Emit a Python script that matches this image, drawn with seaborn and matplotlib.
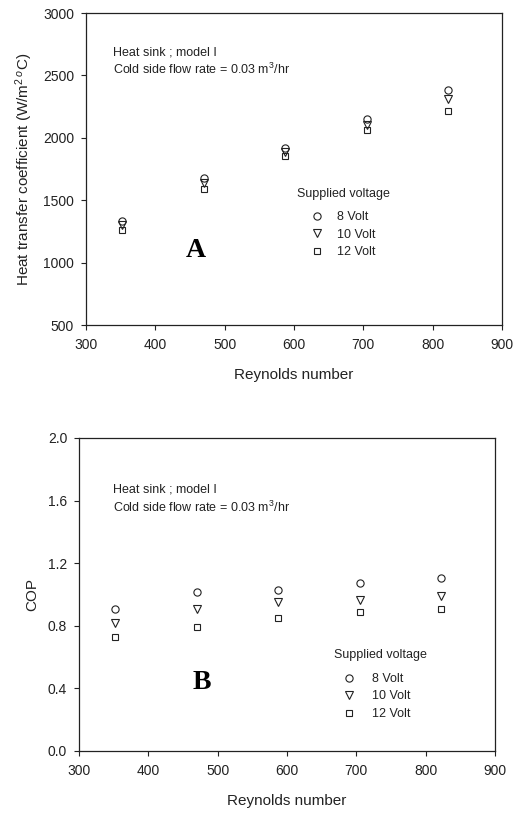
import matplotlib
matplotlib.use("Agg")
import matplotlib.pyplot as plt
import seaborn as sns
import pandas as pd
from matplotlib.lines import Line2D

sns.set_style("ticks")
plt.rcParams['font.family'] = ['Liberation Sans', 'DejaVu Sans']
plt.rcParams['mathtext.fontset'] = 'custom'
plt.rcParams['mathtext.rm'] = 'Liberation Sans'
plt.rcParams['mathtext.it'] = 'Liberation Sans:italic'
plt.rcParams['mathtext.bf'] = 'Liberation Sans:bold'

reynolds = [352, 470, 587, 705, 822]
voltages = ["8 Volt", "10 Volt", "12 Volt"]
htc_8 = [1335, 1680, 1920, 2152, 2385]
htc_10 = [1305, 1635, 1885, 2100, 2310]
htc_12 = [1258, 1588, 1853, 2062, 2215]
cop_8 = [0.907, 1.018, 1.031, 1.072, 1.106]
cop_10 = [0.815, 0.905, 0.952, 0.965, 0.993]
cop_12 = [0.726, 0.792, 0.847, 0.886, 0.909]
markers = ['o', 'v', 's']
msizes = [5.2, 5.4, 5.0]

fig = plt.figure(figsize=(5.23, 8.13), dpi=100)
axA = fig.add_axes([0.1644, 0.6002, 0.7954, 0.3838])
axB = fig.add_axes([0.1510, 0.0763, 0.7954, 0.3850])

ink = '#222222'


def draw(ax, series, ylim, yticks, yfmt, ylabel, letter, letter_pos, leg_title_pos, leg_pos, note_pos, tpad):
    for vals, m, ms in zip(series, markers, msizes):
        df = pd.DataFrame({"Re": reynolds, "v": vals})
        sns.lineplot(data=df, x="Re", y="v", ax=ax, marker=m, linestyle='',
                     color=ink, markerfacecolor='none', markeredgecolor=ink,
                     markeredgewidth=0.8, markersize=ms, errorbar=None)
    ax.set_xlim(300, 900)
    ax.set_ylim(*ylim)
    ax.set_xticks(range(300, 901, 100))
    ax.set_yticks(yticks)
    ax.set_yticklabels([yfmt.format(t) for t in yticks])
    ax.tick_params(direction='out', length=3.5, width=0.8, labelsize=10, colors=ink)
    ax.tick_params(axis='x', pad=6)
    ax.tick_params(axis='y', pad=5)
    for s in ax.spines.values():
        s.set_visible(True)
        s.set_linewidth(0.9)
        s.set_color(ink)
    ax.set_xlabel("Reynolds number", fontsize=11, labelpad=11.5, color=ink)
    ax.set_ylabel(ylabel, fontsize=11, labelpad=6, color=ink)
    ax.text(note_pos[0], note_pos[1], "Heat sink ; model I\nCold side flow rate = 0.03 m$^3$/hr",
            transform=ax.transAxes, fontsize=9, va='top', ha='left', linespacing=1.3, color=ink)
    ax.text(letter_pos[0], letter_pos[1], letter, transform=ax.transAxes,
            fontsize=20, fontweight='bold', family='Liberation Serif', ha='center', va='center',
            color='black')
    ax.text(leg_title_pos[0], leg_title_pos[1], "Supplied voltage", transform=ax.transAxes,
            fontsize=9, ha='left', va='center', color=ink)
    handles = [Line2D([], [], marker=m, linestyle='', color=ink, markerfacecolor='none',
                      markeredgewidth=0.8, markersize=ms) for m, ms in zip(markers, msizes)]
    leg = ax.legend(handles, voltages, loc='upper left', bbox_to_anchor=leg_pos, frameon=False,
                    fontsize=9, handlelength=1.0, handletextpad=tpad, labelspacing=0.44,
                    borderpad=0, borderaxespad=0)
    for t in leg.get_texts():
        t.set_color(ink)


draw(axA, [htc_8, htc_10, htc_12], (500, 3000), [500, 1000, 1500, 2000, 2500, 3000], "{:d}",
     "Heat transfer coefficient (W/m$^{2}$$^{\\,o}$C)", "A",
     ((196 - 86) / 416, (325 - 250) / 312), ((297 - 86) / 416, (325 - 194) / 312),
     ((311 - 86) / 416, (325 - 211) / 312), ((113 - 86) / 416, (325 - 46) / 312), 1.1)

draw(axB, [cop_8, cop_10, cop_12], (0, 2.0), [0.0, 0.4, 0.8, 1.2, 1.6, 2.0], "{:.1f}",
     "COP", "B",
     ((202 - 79) / 416, (751 - 683) / 313), ((334 - 79) / 416, (751 - 655) / 313),
     ((343 - 79) / 416, (751 - 673) / 313), ((113 - 79) / 416, (751 - 484) / 313), 1.3)

fig.savefig("out.png", dpi=100)
